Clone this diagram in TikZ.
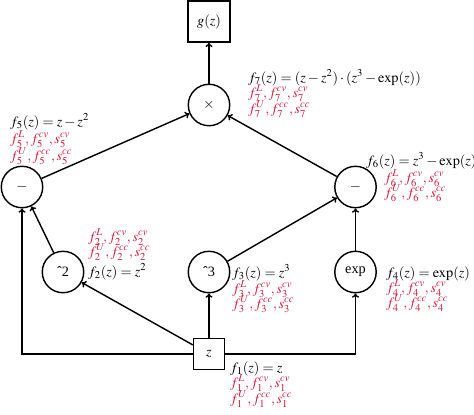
\documentclass[tikz,border=0pt]{standalone}
\usepackage{mathptmx}
\usepackage{fontspec}
\setmainfont{Liberation Serif}
\usetikzlibrary{arrows.meta}
\definecolor{labred}{RGB}{212,28,62}
\begin{document}
\begin{tikzpicture}[x=0.7pt,y=-0.7pt,
  opnode/.style={draw,circle,line width=1pt,minimum size=29pt,inner sep=0pt},
  boxnode/.style={draw,rectangle,line width=1pt,inner sep=0pt},
  conn/.style={line width=1pt,-{To[length=3pt,width=5pt]}},
  fun/.style={anchor=base west,inner sep=0pt},
  bnd/.style={anchor=base west,inner sep=0pt,text=labred}]
\useasboundingbox (0,0) rectangle (474,414);
% nodes
\node[boxnode,minimum width=29.4pt,minimum height=28.7pt] (g) at (209,21.5) {$g(z)$};
\node[opnode] (x) at (209,105) {$\times$};
\node[opnode] (m5) at (22,187) {$-$};
\node[opnode] (m6) at (355.5,187) {$-$};
\node[opnode] (p2) at (63,272) {ˆ2};
\node[opnode] (p3) at (209,272) {ˆ3};
\node[opnode] (e) at (355.5,272) {exp};
\node[boxnode,minimum size=21.7pt] (z) at (209,354) {$z$};
% connectors
\draw[conn] (x) -- (g);
\draw[conn] (m5) -- (x);
\draw[conn] (m6) -- (x);
\draw[conn] (p2) -- (m5);
\draw[conn] (z.west) -| (m5.south);
\draw[conn] (z) -- (p2);
\draw[conn] (z) -- (p3);
\draw[conn] (z.east) -| (e.south);
\draw[conn] (e) -- (m6);
\draw[conn] (p3) -- (m6);
% labels
\node[fun] (l7a) at (248,82) {$f_7(z) = (z-z^2)\cdot(z^3-\exp(z))$};
\node[bnd] (l7b) at (248,97) {$f_7^L, f_7^{cv}, s_7^{cv}$};
\node[bnd] (l7c) at (248,113) {$f_7^U, f_7^{cc}, s_7^{cc}$};
\node[fun] (l5a) at (10,126) {$f_5(z) = z-z^2$};
\node[bnd] (l5b) at (10,143) {$f_5^L, f_5^{cv}, s_5^{cv}$};
\node[bnd] (l5c) at (10,160) {$f_5^U, f_5^{cc}, s_5^{cc}$};
\node[fun] (l6a) at (366,165) {$f_6(z) = z^3-\exp(z)$};
\node[bnd] (l6b) at (384,182) {$f_6^L, f_6^{cv}, s_6^{cv}$};
\node[bnd] (l6c) at (384,197) {$f_6^U, f_6^{cc}, s_6^{cc}$};
\node[bnd] (l2b) at (88,241) {$f_2^L, f_2^{cv}, s_2^{cv}$};
\node[bnd] (l2c) at (88,256) {$f_2^U, f_2^{cc}, s_2^{cc}$};
\node[fun] (l2a) at (88,276) {$f_2(z) = z^2$};
\node[fun] (l3a) at (232,277) {$f_3(z) = z^3$};
\node[bnd] (l3b) at (232,293) {$f_3^L, f_3^{cv}, s_3^{cv}$};
\node[bnd] (l3c) at (232,308) {$f_3^U, f_3^{cc}, s_3^{cc}$};
\node[fun] (l4a) at (386,277) {$f_4(z) = \exp(z)$};
\node[bnd] (l4b) at (386,292) {$f_4^L, f_4^{cv}, s_4^{cv}$};
\node[bnd] (l4c) at (386,307) {$f_4^U, f_4^{cc}, s_4^{cc}$};
\node[fun] (l1a) at (230,372) {$f_1(z) = z$};
\node[bnd] (l1b) at (230,387) {$f_1^L, f_1^{cv}, s_1^{cv}$};
\node[bnd] (l1c) at (230,403) {$f_1^U, f_1^{cc}, s_1^{cc}$};
\end{tikzpicture}
\end{document}
